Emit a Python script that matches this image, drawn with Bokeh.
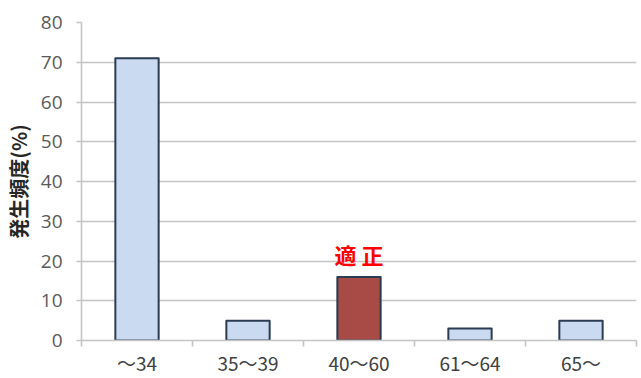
from bokeh.plotting import figure
from bokeh.models import ColumnDataSource, FixedTicker, Range1d, Label
from bokeh.embed import file_html
from bokeh.resources import INLINE

# Age groups and frequency of occurrence (%)
categories = ["～34", "35～39", "40～60", "61～64", "65～"]
frequency = [71, 5, 16, 3, 5]
bar_colors = ["#c9daf1", "#c9daf1", "#a84a46", "#c9daf1", "#c9daf1"]
y_ticks = [0, 10, 20, 30, 40, 50, 60, 70, 80]

positions = [i + 0.5 for i in range(len(categories))]
source = ColumnDataSource(dict(x=positions, top=frequency, color=bar_colors))

p = figure(width=641, height=378, output_backend="svg", toolbar_location=None,
           x_range=Range1d(0, len(categories)), y_range=Range1d(0, 80),
           min_border_left=81, min_border_right=5, min_border_top=22, min_border_bottom=37)
p.outline_line_color = None
p.background_fill_color = "white"
p.border_fill_color = "white"

p.vbar(x="x", top="top", bottom=0, width=0.39, source=source,
       fill_color="color", line_color="#2a3b52", line_width=2, line_join="round")

# Grid
p.xgrid.grid_line_color = None
p.ygrid.ticker = FixedTicker(ticks=y_ticks)
p.ygrid.grid_line_color = "#c4c4c4"
p.ygrid.grid_line_width = 1.6

# Y axis
p.yaxis.ticker = FixedTicker(ticks=y_ticks)
p.yaxis.axis_label = "発生頻度(%)"
p.yaxis.axis_label_text_font = "Noto Sans CJK JP"
p.yaxis.axis_label_text_font_style = "bold"
p.yaxis.axis_label_text_font_size = "20px"
p.yaxis.axis_label_text_color = "#262626"
p.yaxis.axis_label_standoff = 5
p.yaxis.major_label_text_font = "Open Sans"
p.yaxis.major_label_text_font_size = "19px"
p.yaxis.major_label_text_color = "#595959"
p.yaxis.major_label_standoff = 14
p.yaxis.axis_line_color = "#c4c4c4"
p.yaxis.axis_line_width = 1.6
p.yaxis.major_tick_line_color = "#c4c4c4"
p.yaxis.major_tick_line_width = 1.6
p.yaxis.major_tick_out = 5
p.yaxis.major_tick_in = 0
p.yaxis.minor_tick_line_color = None

# X axis: labels at category centres, tick marks on category boundaries
p.xaxis.ticker = FixedTicker(ticks=positions,
                             minor_ticks=list(range(len(categories) + 1)))
p.xaxis.major_label_overrides = {pos: c for pos, c in zip(positions, categories)}
p.xaxis.major_label_text_font = "Noto Sans CJK JP"
p.xaxis.major_label_text_font_size = "19px"
p.xaxis.major_label_text_color = "#404040"
p.xaxis.major_label_standoff = 2
p.xaxis.major_tick_line_color = None
p.xaxis.major_tick_out = 0
p.xaxis.major_tick_in = 0
p.xaxis.axis_line_color = "#c4c4c4"
p.xaxis.axis_line_width = 1.6
p.xaxis.minor_tick_line_color = "#c4c4c4"
p.xaxis.minor_tick_line_width = 1.6
p.xaxis.minor_tick_out = 6
p.xaxis.minor_tick_in = 0

# Highlight label above the recommended range
p.add_layout(Label(x=positions[2], y=21.8, text="適 正", text_align="center",
                   text_baseline="middle", text_color="#ff0000",
                   text_font="Noto Sans CJK JP", text_font_style="bold",
                   text_font_size="22px"))

open("out.html", "w").write(file_html(p, INLINE))
